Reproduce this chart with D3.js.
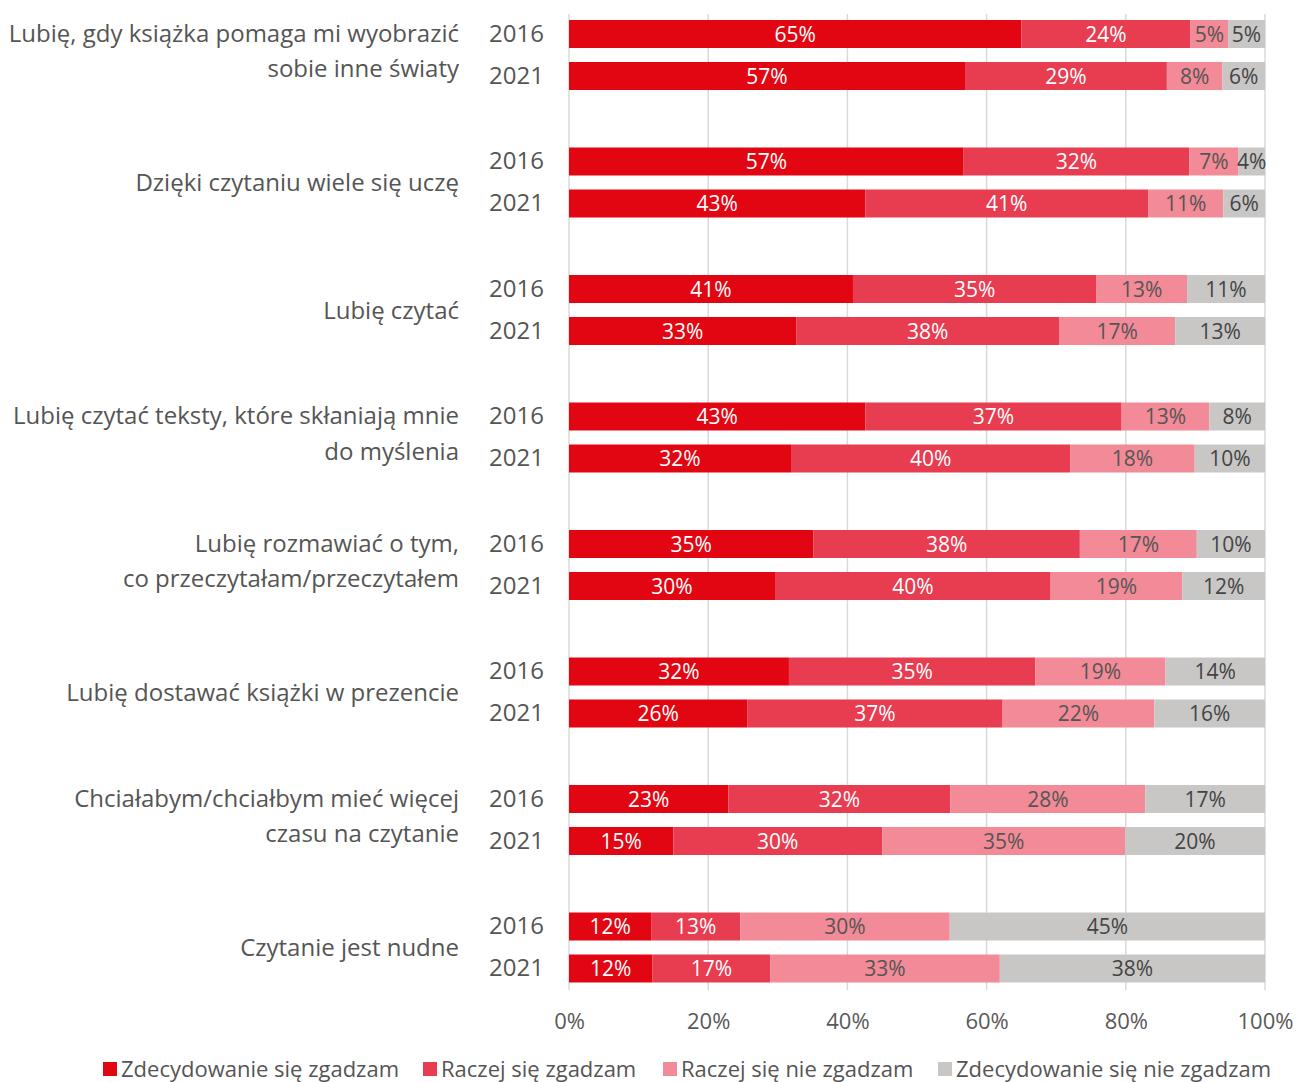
<!DOCTYPE html>
<html>
<head>
<meta charset="utf-8">
<script src="https://cdn.jsdelivr.net/npm/d3@7"></script>
<style>
  body { margin: 0; background: #fff; }
  svg { font-family: "Open Sans", sans-serif; }
</style>
</head>
<body>
<svg width="1298" height="1082"></svg>
<script>
const categories = [
    ["Lubię, gdy książka pomaga mi wyobrazić", "sobie inne światy"],
    ["Dzięki czytaniu wiele się uczę"],
    ["Lubię czytać"],
    ["Lubię czytać teksty, które skłaniają mnie", "do myślenia"],
    ["Lubię rozmawiać o tym,", "co przeczytałam/przeczytałem"],
    ["Lubię dostawać książki w prezencie"],
    ["Chciałabym/chciałbym mieć więcej", "czasu na czytanie"],
    ["Czytanie jest nudne"]
];
const years = ["2016", "2021"];
const seriesNames = ["Zdecydowanie się zgadzam", "Raczej się zgadzam", "Raczej się nie zgadzam", "Zdecydowanie się nie zgadzam"];

// [2016, 2021] per category
const stronglyAgree = [[65.0, 56.9], [56.7, 42.6], [40.8, 32.7], [42.6, 31.9], [35.1, 29.6], [31.6, 25.6], [22.9, 15.0], [11.8, 12.0]];
const ratherAgree = [[24.3, 29.0], [32.4, 40.6], [35.0, 37.7], [36.8, 40.1], [38.3, 39.6], [35.4, 36.7], [31.9, 30.0], [12.8, 16.9]];
const ratherDisagree = [[5.4, 8.0], [7.1, 10.8], [13.0, 16.7], [12.6, 17.9], [16.8, 18.9], [18.7, 21.8], [28.0, 34.9], [30.1, 33.0]];
const stronglyDisagree = [[5.3, 6.1], [3.8, 6.0], [11.2, 12.9], [8.0, 10.1], [9.8, 11.9], [14.3, 15.9], [17.2, 20.1], [45.3, 38.1]];
const ticks = [0, 20, 40, 60, 80, 100];

const series = [stronglyAgree, ratherAgree, ratherDisagree, stronglyDisagree];
const colors = ["#e20613", "#e83c50", "#f28b97", "#c8c7c6"];
const labelColors = ["#ffffff", "#ffffff", "#555555", "#444444"];

const svg = d3.select("svg");

// flatten rows
const rows = [];
categories.forEach((c, ci) => {
    years.forEach((yr, yi) => {
        let x0 = 0;
        const segs = series.map((s, si) => {
            const v = s[ci][yi];
            const seg = { si, v, x0, x1: x0 + v };
            x0 += v;
            return seg;
        });
        rows.push({ ci, year: yr, segs });
    });
});

const x = d3.scaleLinear().domain([0, 100]).range([569, 1265]);
const yGroup = d3.scaleBand().domain(d3.range(categories.length)).range([-8.75, 1011.25]);
const yInner = d3.scaleBand().domain(years)
    .range([yGroup.bandwidth() / 2 - 35, yGroup.bandwidth() / 2 + 35])
    .paddingInner(1 / 3);

// grid
svg.append("g").selectAll("line")
    .data(ticks)
    .enter().append("line")
    .attr("x1", d => x(d)).attr("x2", d => x(d))
    .attr("y1", 14).attr("y2", 990)
    .attr("stroke", "#d9d9d9")
    .attr("stroke-width", 1.5);

// bars
const rowG = svg.append("g").selectAll("g")
    .data(rows)
    .enter().append("g")
    .attr("transform", d => `translate(0,${yGroup(d.ci) + yInner(d.year)})`);

rowG.selectAll("rect")
    .data(d => d.segs)
    .enter().append("rect")
    .attr("x", d => x(d.x0))
    .attr("width", d => x(d.x1) - x(d.x0))
    .attr("height", yInner.bandwidth())
    .attr("fill", d => colors[d.si]);

rowG.selectAll("text.val")
    .data(d => d.segs)
    .enter().append("text")
    .attr("class", "val")
    .attr("x", d => (x(d.x0) + x(d.x1)) / 2)
    .attr("y", yInner.bandwidth() / 2)
    .attr("dy", "0.36em")
    .attr("text-anchor", "middle")
    .attr("font-size", 21)
    .attr("fill", d => labelColors[d.si])
    .text(d => Math.round(d.v) + "%");

// year labels
rowG.append("text")
    .attr("x", 544)
    .attr("y", yInner.bandwidth() / 2 - 1)
    .attr("dy", "0.36em")
    .attr("text-anchor", "end")
    .attr("font-size", 24)
    .attr("fill", "#555")
    .text(d => d.year);

// category labels
const catG = svg.append("g").selectAll("text")
    .data(categories)
    .enter().append("text")
    .attr("text-anchor", "end")
    .attr("font-size", 24)
    .attr("fill", "#555");

catG.selectAll("tspan")
    .data((d, i) => d.map((line, li) => ({ line, li, n: d.length, ci: i })))
    .enter().append("tspan")
    .attr("x", 459)
    .attr("y", d => yGroup(d.ci) + yGroup.bandwidth() / 2 + (d.li - (d.n - 1) / 2) * 35.5 - (d.n > 1 ? 4 : 0))
    .attr("dy", "0.36em")
    .text(d => d.line);

// x axis
const axis = svg.append("g")
    .attr("transform", "translate(0,1008)")
    .call(d3.axisBottom(x).tickValues(ticks).tickFormat(d => d + "%").tickSize(0));
axis.select(".domain").remove();
axis.selectAll("text")
    .attr("font-family", "Open Sans, sans-serif")
    .attr("font-size", 22)
    .attr("fill", "#595959")
    .attr("dy", "0.36em")
    .attr("y", 13);

// legend
const legendX = [103, 423, 663, 938];
const legend = svg.append("g").selectAll("g")
    .data(seriesNames)
    .enter().append("g")
    .attr("transform", (d, i) => `translate(${legendX[i]},1069)`);
legend.append("rect")
    .attr("x", 0).attr("y", -7)
    .attr("width", 14).attr("height", 14)
    .attr("fill", (d, i) => colors[i]);
legend.append("text")
    .attr("x", 18)
    .attr("dy", "0.36em")
    .attr("font-size", 22)
    .attr("fill", "#555")
    .text(d => d);
</script>
</body>
</html>
